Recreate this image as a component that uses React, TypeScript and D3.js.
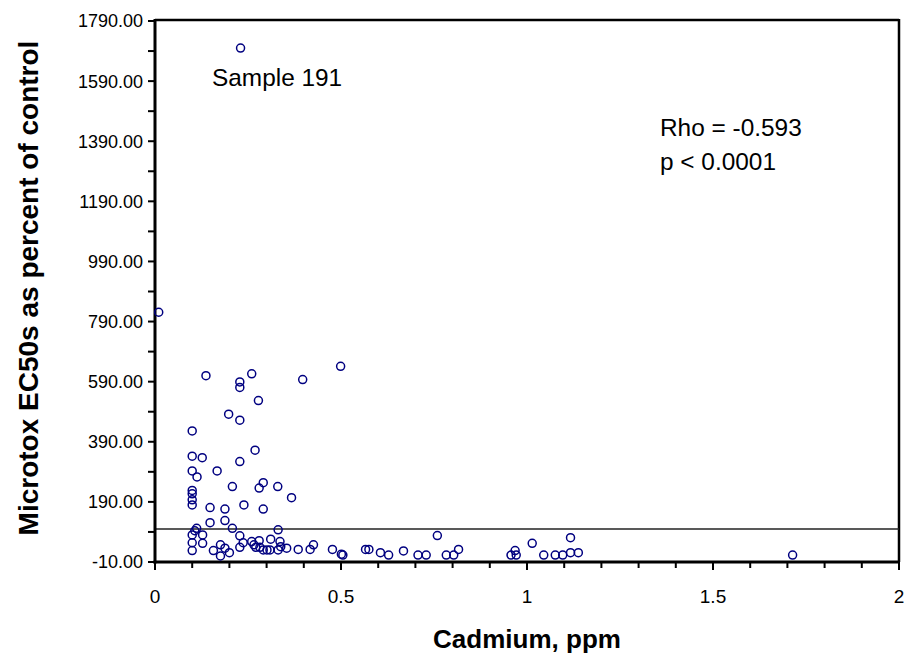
import React from "react";
import * as d3 from "d3";

const cadmium = [
  0.01, 0.23, 0.10, 0.137, 0.228, 0.228, 0.26, 0.397, 0.499, 0.278,
  0.198, 0.228, 0.269, 0.10, 0.127, 0.228, 0.167, 0.10, 0.113, 0.208,
  0.291, 0.28, 0.33, 0.367, 0.10, 0.10, 0.10, 0.10, 0.148, 0.188,
  0.239, 0.291, 0.148, 0.188, 0.208, 0.112, 0.107, 0.331, 0.10, 0.128,
  0.228, 0.10, 0.128, 0.10, 0.157, 0.176, 0.176, 0.188, 0.20, 0.228,
  0.237, 0.26, 0.266, 0.28, 0.271, 0.282, 0.291, 0.301, 0.311, 0.309,
  0.336, 0.331, 0.338, 0.354, 0.385, 0.417, 0.426, 0.477, 0.501, 0.505,
  0.566, 0.575, 0.606, 0.628, 0.668, 0.707, 0.729, 0.759, 0.783, 0.803,
  0.816, 0.957, 0.968, 0.971, 1.014, 1.045, 1.076, 1.096, 1.117, 1.117,
  1.138, 1.714,
];
const ec50 = [
  821, 1700, 426, 610, 589, 571, 616, 597, 641, 527,
  482, 462, 362, 342, 337, 324, 293, 293, 273, 241,
  254, 236, 241, 204, 228, 217, 197, 180, 171, 166,
  180, 166, 121, 128, 102, 102, 94, 97, 80, 80,
  77, 54, 52, 28, 28, 47, 10, 36, 21, 39,
  54, 58, 47, 61, 39, 39, 30, 30, 66, 30,
  58, 30, 41, 36, 32, 32, 47, 32, 16, 13,
  32, 32, 21, 13, 27, 13, 13, 78, 13, 13,
  32, 13, 28, 13, 52, 13, 13, 13, 71, 21,
  21, 13,
];

const yTickValues = d3.range(-10, 1791, 100);
const yLabelValues = d3.range(-10, 1791, 200);
const xTickValues = d3.range(0, 21).map((i) => i / 10);
const xLabelValues = [0, 0.5, 1, 1.5, 2];
const refLineValue = 100;

const xTitle = "Cadmium, ppm";
const yTitle = "Microtox EC50s as percent of control";
const sampleLabel = "Sample 191";
const statLines = ["Rho = -0.593", "p < 0.0001"];

export default function App() {
  const W = 906;
  const H = 656;
  const left = 155;
  const right = 899;
  const top = 21;
  const bottom = 562;
  const x = d3.scaleLinear().domain([0, 2]).range([left, right]);
  const y = d3.scaleLinear().domain([-10, 1790]).range([bottom, top]);
  const font = "Arial, 'Liberation Sans', Helvetica, sans-serif";
  const fmtY = (v: number) => d3.format(".2f")(v).replace("\u2212", "-");
  const fmtX = (v: number) => String(v);

  return (
    <svg
      width={W}
      height={H}
      style={{ position: "absolute", left: 0, top: 0, background: "#fff" }}
      fontFamily={font}
    >
      <rect x={0} y={0} width={W} height={H} fill="#fff" />
      {/* frame */}
      <line x1={left} x2={right} y1={top - 1} y2={top - 1} stroke="#000" strokeWidth={2.5} />
      <line x1={right} x2={right} y1={top - 2} y2={bottom} stroke="#000" strokeWidth={2.5} />
      {/* reference line */}
      <line
        x1={left}
        x2={right}
        y1={y(refLineValue)}
        y2={y(refLineValue)}
        stroke="#222"
        strokeWidth={1.5}
      />
      {/* y ticks */}
      {yTickValues.map((v) => (
        <line key={"yt" + v} x1={left - 7} x2={left} y1={y(v)} y2={y(v)} stroke="#000" strokeWidth={2} />
      ))}
      {yLabelValues.map((v) => (
        <text
          key={"yl" + v}
          x={143}
          y={y(v)}
          dy="0.36em"
          textAnchor="end"
          fontSize={18}
          fill="#000"
        >
          {fmtY(v)}
        </text>
      ))}
      {/* x ticks */}
      {xTickValues.map((v, i) => (
        <line
          key={"xt" + i}
          x1={x(v)}
          x2={x(v)}
          y1={bottom}
          y2={bottom + (i % 5 === 0 ? 8 : 6)}
          stroke="#000"
          strokeWidth={2}
        />
      ))}
      {xLabelValues.map((v) => (
        <text key={"xl" + v} x={x(v)} y={603} textAnchor="middle" fontSize={19} fill="#000">
          {fmtX(v)}
        </text>
      ))}
      {/* axes */}
      <line x1={left} x2={left} y1={top - 2} y2={bottom + 1.5} stroke="#000" strokeWidth={3} />
      <line x1={left - 1.5} x2={right + 1} y1={bottom} y2={bottom} stroke="#000" strokeWidth={3} />
      {/* points */}
      {cadmium.map((c, i) => (
        <circle
          key={"p" + i}
          cx={x(c)}
          cy={y(ec50[i])}
          r={4}
          fill="none"
          stroke="#000080"
          strokeWidth={1.5}
        />
      ))}
      {/* annotations */}
      <text x={212} y={86} fontSize={24.4} fill="#000">
        {sampleLabel}
      </text>
      {statLines.map((s, i) => (
        <text key={"s" + i} x={660} y={136 + i * 34} fontSize={24.4} fill="#000">
          {s}
        </text>
      ))}
      {/* titles */}
      <text
        x={527}
        y={648}
        textAnchor="middle"
        fontSize={26}
        fontWeight="bold"
        fill="#000"
      >
        {xTitle}
      </text>
      <text
        transform={`translate(38, 288) rotate(-90)`}
        textAnchor="middle"
        fontSize={28}
        fontWeight="bold"
        fill="#000"
      >
        {yTitle}
      </text>
    </svg>
  );
}
